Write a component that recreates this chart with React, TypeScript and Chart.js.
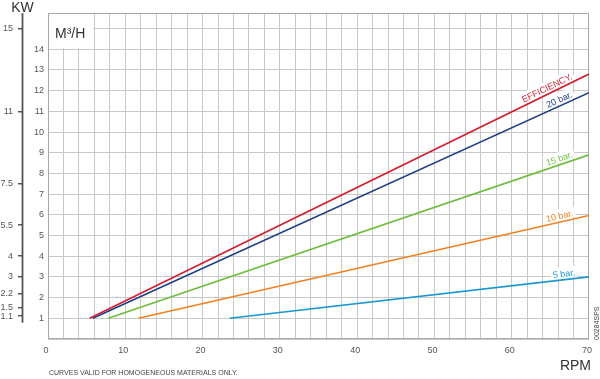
import React, { useEffect, useRef } from 'react';
import { Chart, registerables } from 'chart.js';

Chart.register(...registerables);

const seriesNames = ['EFFICIENCY.', '20 bar.', '15 bar.', '10 bar.', '5 bar.'];
const seriesColors = ['#d21f30', '#1f3d85', '#6cbd3c', '#f3801f', '#1a98d2'];
const startRpm = [5.4, 5.8, 7.8, 11.7, 23.5];
const startFlow = [1, 1, 1, 1, 1];
const endRpm = [70, 70, 70, 70, 70];
const endFlow = [12.8, 11.9, 8.9, 5.97, 3.0];
const labelRpm = [68.1, 68.1, 68.1, 68.1, 68.3];

const rpmGrid = [0, 2, 4, 6, 8, 10, 12, 14, 16, 18, 20, 22, 24, 26, 28, 30, 32, 34, 36, 38, 40, 42, 44, 46, 48, 50, 52, 54, 56, 58, 60, 62, 64, 66, 68, 70];
const rpmTickLabels = [0, 10, 20, 30, 40, 50, 60, 70];
const flowGrid = [0, 1, 2, 3, 4, 5, 6, 7, 8, 9, 10, 11, 12, 13, 14, 15];
const flowTickLabels = [1, 2, 3, 4, 5, 6, 7, 8, 9, 10, 11, 12, 13, 14];
const kwTicks = [15, 11, 7.5, 5.5, 4, 3, 2.2, 1.5, 1.1];

const FONT = '"Liberation Sans", Arial, Helvetica, sans-serif';

function labelGeom(chart: any, i: number) {
  const x = chart.scales.x;
  const y = chart.scales.y;
  const x1 = x.getPixelForValue(startRpm[i]);
  const y1 = y.getPixelForValue(startFlow[i]);
  const x2 = x.getPixelForValue(endRpm[i]);
  const y2 = y.getPixelForValue(endFlow[i]);
  const ang = Math.atan2(y2 - y1, x2 - x1);
  const t = (labelRpm[i] - startRpm[i]) / (endRpm[i] - startRpm[i]);
  const flow = startFlow[i] + t * (endFlow[i] - startFlow[i]);
  return { px: x.getPixelForValue(labelRpm[i]), py: y.getPixelForValue(flow), ang };
}

const decor = {
  id: 'decor',
  beforeDatasetsDraw(chart: any) {
    const { ctx, chartArea: a, scales } = chart;
    const x = scales.x;
    const y = scales.y;
    ctx.save();
    ctx.fillStyle = '#ffffff';
    const bx = x.getPixelForValue(6);
    const by = y.getPixelForValue(14);
    ctx.fillRect(a.left, a.top, bx - a.left - 1, by - a.top - 1);
    // label backgrounds
    ctx.font = `9px ${FONT}`;
    seriesNames.forEach((name, i) => {
      const g = labelGeom(chart, i);
      const w = ctx.measureText(name).width;
      ctx.save();
      ctx.translate(g.px, g.py);
      ctx.rotate(g.ang);
      ctx.fillStyle = '#ffffff';
      ctx.fillRect(-w - 2, -12.5, w + 4, 11);
      ctx.restore();
    });
    // plot border
    ctx.strokeStyle = '#a8a8a8';
    ctx.lineWidth = 1;
    ctx.strokeRect(Math.round(a.left) + 0.5, Math.round(a.top) + 0.5, Math.round(a.right - a.left) - 1, Math.round(a.bottom - a.top) - 1);
    // KW axis line
    const kw = scales.kw;
    ctx.strokeStyle = '#555555';
    ctx.lineWidth = 1.8;
    ctx.beginPath();
    ctx.moveTo(kw.right - 0.5, a.top);
    ctx.lineTo(kw.right - 0.5, kw.getPixelForValue(0.78));
    ctx.stroke();
    ctx.restore();
  },
  afterDatasetsDraw(chart: any) {
    const { ctx, chartArea: a } = chart;
    ctx.save();
    ctx.font = `9px ${FONT}`;
    ctx.textAlign = 'right';
    ctx.textBaseline = 'alphabetic';
    seriesNames.forEach((name, i) => {
      const g = labelGeom(chart, i);
      ctx.save();
      ctx.translate(g.px, g.py);
      ctx.rotate(g.ang);
      ctx.fillStyle = seriesColors[i];
      ctx.fillText(name, 0, -3);
      ctx.restore();
    });
    // titles
    ctx.fillStyle = '#333333';
    ctx.font = `14px ${FONT}`;
    ctx.textAlign = 'left';
    ctx.fillText('M³/H', a.left + 7, 37.5);
    ctx.textAlign = 'center';
    ctx.fillText('KW', 22.5, 12);
    ctx.textAlign = 'right';
    ctx.fillText('RPM', 591, 370);
    ctx.fillStyle = '#444444';
    ctx.font = `7px ${FONT}`;
    ctx.textAlign = 'left';
    ctx.fillText('CURVES VALID FOR HOMOGENEOUS MATERIALS ONLY.', 49, 374.5);
    ctx.save();
    ctx.translate(599, 340);
    ctx.rotate(-Math.PI / 2);
    ctx.fillText('00284SPS', 0, 0);
    ctx.restore();
    ctx.restore();
  },
};

export default function App() {
  const ref = useRef<HTMLCanvasElement | null>(null);
  useEffect(() => {
    document.body.style.margin = '0';
    const canvas = ref.current;
    if (!canvas) return;
    Chart.defaults.font.family = FONT;
    const chart = new Chart(canvas, {
      type: 'line',
      data: {
        datasets: seriesNames.map((name, i) => ({
          label: name,
          data: [
            { x: startRpm[i], y: startFlow[i] },
            { x: endRpm[i], y: endFlow[i] },
          ],
          borderColor: seriesColors[i],
          backgroundColor: seriesColors[i],
          borderWidth: 1.6,
          pointRadius: 0,
          fill: false,
          tension: 0,
          xAxisID: 'x',
          yAxisID: 'y',
        })),
      },
      options: {
        animation: false,
        responsive: false,
        devicePixelRatio: 1,
        layout: { padding: { top: 13, right: 11, left: 0, bottom: 0 } },
        plugins: { legend: { display: false }, tooltip: { enabled: false } },
        scales: {
          x: {
            type: 'linear',
            position: 'bottom',
            min: 0,
            max: 70,
            afterFit(s: any) { s.height = 40; },
            afterBuildTicks(s: any) { s.ticks = rpmGrid.map((v) => ({ value: v })); },
            ticks: {
              autoSkip: false,
              maxRotation: 0,
              padding: 6,
              labelOffset: -2,
              color: '#555555',
              font: { size: 9 },
              callback: (v: any) => (rpmTickLabels.includes(Number(v)) ? String(v) : ''),
            },
            grid: { color: '#c8c8c8', drawTicks: false },
            border: { display: false },
          },
          kw: {
            type: 'linear',
            position: 'left',
            weight: 10,
            min: 0,
            max: 15.75,
            afterFit(s: any) { s.width = 23; },
            afterBuildTicks(s: any) { s.ticks = kwTicks.map((v) => ({ value: v })); },
            ticks: {
              autoSkip: false,
              padding: 5,
              color: '#555555',
              font: { size: 9 },
              callback: (v: any) => String(v),
            },
            grid: { drawOnChartArea: false, drawTicks: true, tickLength: 5, color: '#555555', lineWidth: 1.5 },
            border: { display: false },
          },
          y: {
            type: 'linear',
            position: 'left',
            weight: 0,
            min: 0,
            max: 15.75,
            afterFit(s: any) { s.width = 25; },
            afterBuildTicks(s: any) { s.ticks = flowGrid.map((v) => ({ value: v })); },
            ticks: {
              autoSkip: false,
              padding: 4,
              color: '#555555',
              font: { size: 9 },
              callback: (v: any) => (flowTickLabels.includes(Number(v)) ? String(v) : ''),
            },
            grid: { color: '#c8c8c8', drawTicks: false },
            border: { display: false },
          },
        },
      } as any,
      plugins: [decor],
    });
    return () => chart.destroy();
  }, []);
  return <canvas ref={ref} width={600} height={379} style={{ display: 'block', width: 600, height: 379 }} />;
}
